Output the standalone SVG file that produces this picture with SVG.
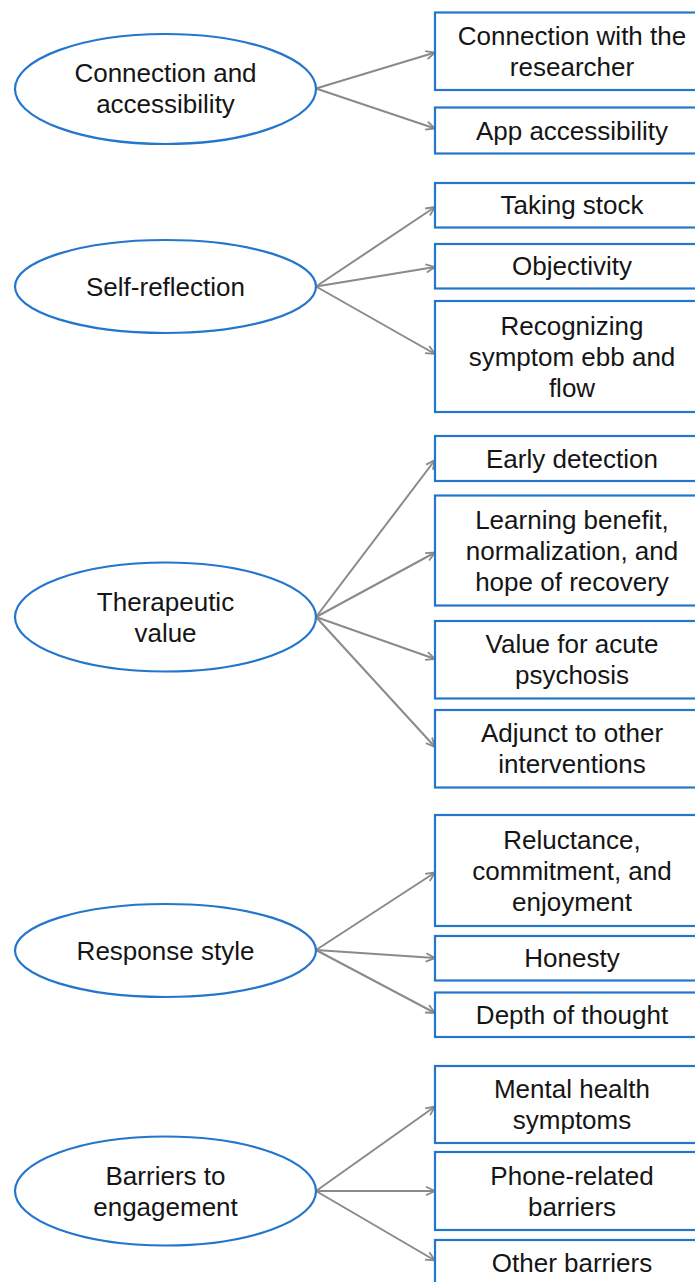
<svg xmlns="http://www.w3.org/2000/svg" width="695" height="1282" viewBox="0 0 695 1282">
<style>
.ell{fill:#ffffff;stroke:#2376cc;stroke-width:2.2}
.box{fill:#ffffff;stroke:#2376cc;stroke-width:2.2}
.t{font-family:"Liberation Sans",Arial,sans-serif;font-size:26px;fill:#151515;text-anchor:middle}
.c{stroke:#8a8a8a;stroke-width:2;fill:none}
</style>
<defs>
<marker id="arr" markerUnits="userSpaceOnUse" markerWidth="12" markerHeight="12" refX="10" refY="5" orient="auto" viewBox="0 0 12 10">
<path d="M1,0.8 L10,5 L1,9.2" fill="none" stroke="#8a8a8a" stroke-width="1.8"/>
</marker>
</defs>
<rect width="695" height="1282" fill="#ffffff"/>
<g id="connectors">
<line class="c" x1="316" y1="88.5" x2="435" y2="52.5" marker-end="url(#arr)"/>
<line class="c" x1="316" y1="88.5" x2="435" y2="128.5" marker-end="url(#arr)"/>
<line class="c" x1="316" y1="286.5" x2="435" y2="207" marker-end="url(#arr)"/>
<line class="c" x1="316" y1="286.5" x2="435" y2="267" marker-end="url(#arr)"/>
<line class="c" x1="316" y1="286.5" x2="435" y2="354" marker-end="url(#arr)"/>
<line class="c" x1="316" y1="617" x2="435" y2="460" marker-end="url(#arr)"/>
<line class="c" x1="316" y1="617" x2="435" y2="552.5" marker-end="url(#arr)"/>
<line class="c" x1="316" y1="617" x2="435" y2="659" marker-end="url(#arr)"/>
<line class="c" x1="316" y1="617" x2="435" y2="747" marker-end="url(#arr)"/>
<line class="c" x1="316" y1="950" x2="435" y2="872.5" marker-end="url(#arr)"/>
<line class="c" x1="316" y1="950" x2="435" y2="958" marker-end="url(#arr)"/>
<line class="c" x1="316" y1="950" x2="435" y2="1013" marker-end="url(#arr)"/>
<line class="c" x1="316" y1="1191" x2="435" y2="1106.5" marker-end="url(#arr)"/>
<line class="c" x1="316" y1="1191" x2="435" y2="1191" marker-end="url(#arr)"/>
<line class="c" x1="316" y1="1191" x2="435" y2="1260.5" marker-end="url(#arr)"/>
</g>
<g id="theme-connection">
<ellipse class="ell" cx="165.5" cy="89" rx="150.5" ry="55"/>
<text class="t" x="165.5" y="82">Connection and</text>
<text class="t" x="165.5" y="113">accessibility</text>
</g>
<g id="sub-connection-researcher">
<rect class="box" x="435" y="12.5" width="274" height="77.5"/>
<text class="t" x="572" y="44.75">Connection with the</text>
<text class="t" x="572" y="75.75">researcher</text>
</g>
<g id="sub-app-accessibility">
<rect class="box" x="435" y="107.5" width="274" height="46"/>
<text class="t" x="572" y="139.5">App accessibility</text>
</g>
<g id="theme-self-reflection">
<ellipse class="ell" cx="165.5" cy="286.5" rx="150.5" ry="46.5"/>
<text class="t" x="165.5" y="295.5">Self-reflection</text>
</g>
<g id="sub-taking-stock">
<rect class="box" x="435" y="183" width="274" height="44.5"/>
<text class="t" x="572" y="214.25">Taking stock</text>
</g>
<g id="sub-objectivity">
<rect class="box" x="435" y="244" width="274" height="44.5"/>
<text class="t" x="572" y="275.25">Objectivity</text>
</g>
<g id="sub-recognizing">
<rect class="box" x="435" y="301" width="274" height="111"/>
<text class="t" x="572" y="334.5">Recognizing</text>
<text class="t" x="572" y="365.5">symptom ebb and</text>
<text class="t" x="572" y="396.5">flow</text>
</g>
<g id="theme-therapeutic">
<ellipse class="ell" cx="165.5" cy="617" rx="150.5" ry="54.5"/>
<text class="t" x="165.5" y="610.5">Therapeutic</text>
<text class="t" x="165.5" y="641.5">value</text>
</g>
<g id="sub-early-detection">
<rect class="box" x="435" y="436" width="274" height="45"/>
<text class="t" x="572" y="467.5">Early detection</text>
</g>
<g id="sub-learning">
<rect class="box" x="435" y="495.5" width="274" height="110"/>
<text class="t" x="572" y="528.5">Learning benefit,</text>
<text class="t" x="572" y="559.5">normalization, and</text>
<text class="t" x="572" y="590.5">hope of recovery</text>
</g>
<g id="sub-acute">
<rect class="box" x="435" y="621" width="274" height="77.5"/>
<text class="t" x="572" y="653.25">Value for acute</text>
<text class="t" x="572" y="684.25">psychosis</text>
</g>
<g id="sub-adjunct">
<rect class="box" x="435" y="710" width="274" height="77.5"/>
<text class="t" x="572" y="742.25">Adjunct to other</text>
<text class="t" x="572" y="773.25">interventions</text>
</g>
<g id="theme-response">
<ellipse class="ell" cx="165.5" cy="950.5" rx="150.5" ry="46.5"/>
<text class="t" x="165.5" y="959.5">Response style</text>
</g>
<g id="sub-reluctance">
<rect class="box" x="435" y="815" width="274" height="111"/>
<text class="t" x="572" y="848.5">Reluctance,</text>
<text class="t" x="572" y="879.5">commitment, and</text>
<text class="t" x="572" y="910.5">enjoyment</text>
</g>
<g id="sub-honesty">
<rect class="box" x="435" y="936" width="274" height="44.5"/>
<text class="t" x="572" y="967.25">Honesty</text>
</g>
<g id="sub-depth">
<rect class="box" x="435" y="992.5" width="274" height="44.5"/>
<text class="t" x="572" y="1023.75">Depth of thought</text>
</g>
<g id="theme-barriers">
<ellipse class="ell" cx="165.5" cy="1191" rx="150.5" ry="54.5"/>
<text class="t" x="165.5" y="1184.5">Barriers to</text>
<text class="t" x="165.5" y="1215.5">engagement</text>
</g>
<g id="sub-mental-health">
<rect class="box" x="435" y="1066" width="274" height="77"/>
<text class="t" x="572" y="1098">Mental health</text>
<text class="t" x="572" y="1129">symptoms</text>
</g>
<g id="sub-phone">
<rect class="box" x="435" y="1152" width="274" height="78"/>
<text class="t" x="572" y="1184.5">Phone-related</text>
<text class="t" x="572" y="1215.5">barriers</text>
</g>
<g id="sub-other">
<rect class="box" x="435" y="1240" width="274" height="46"/>
<text class="t" x="572" y="1272">Other barriers</text>
</g>
</svg>
